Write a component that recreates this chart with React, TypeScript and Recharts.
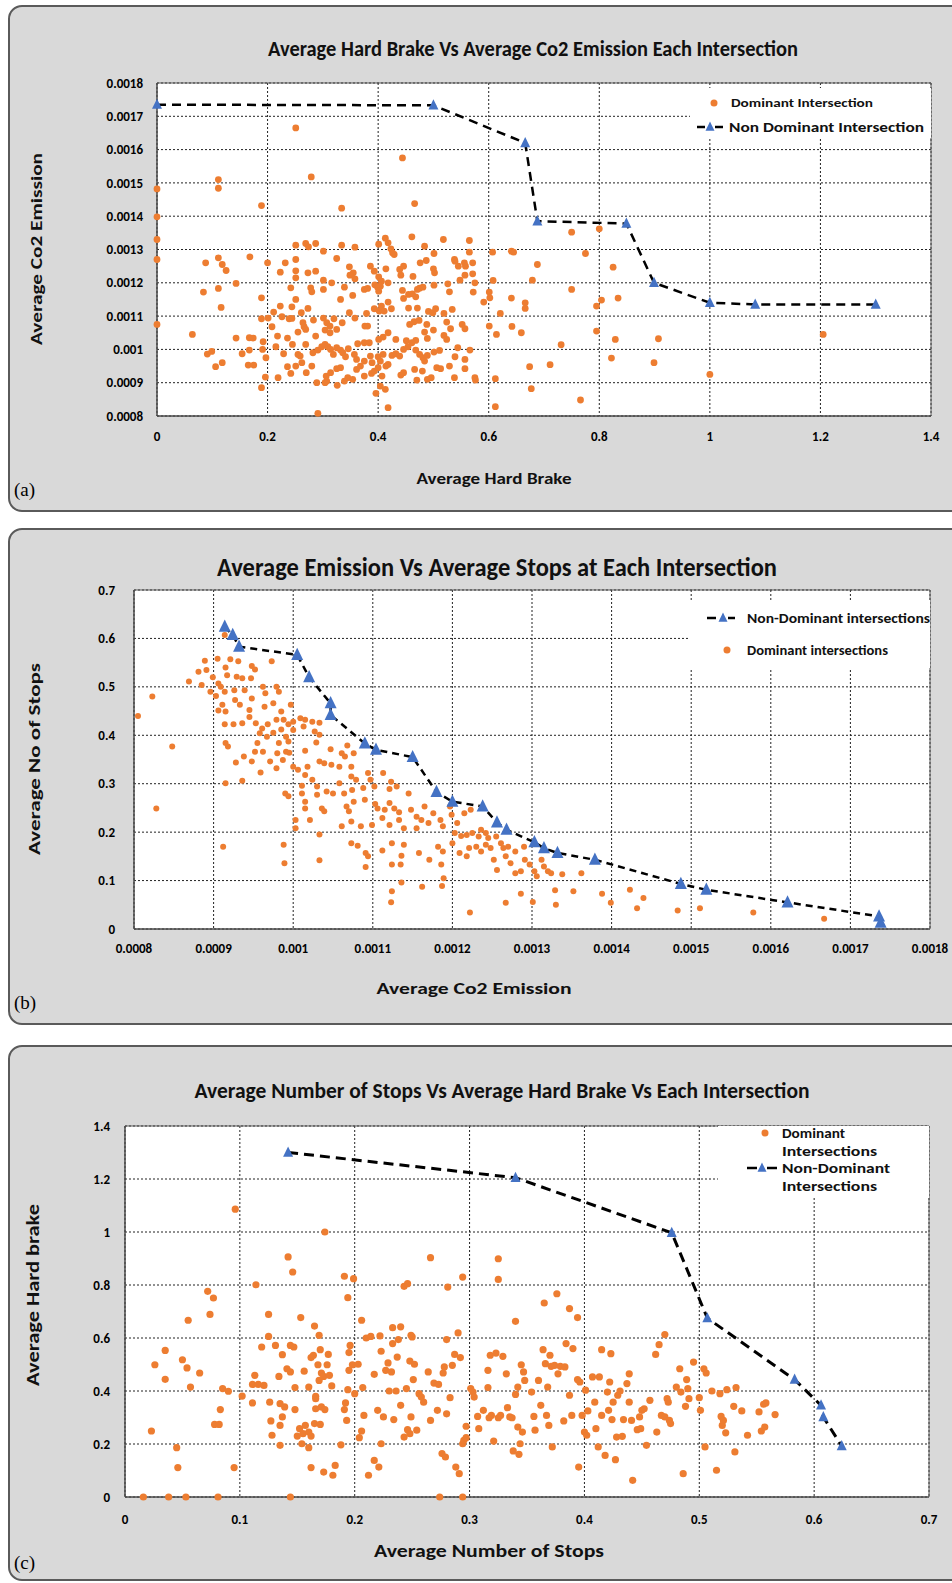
import React from 'react';
import { ScatterChart, Scatter, XAxis, YAxis, CartesianGrid, ReferenceArea, Legend } from 'recharts';

const ORANGE = '#ED7D31';
const BLUE = '#4472C4';
const FONT = "Carlito, 'Liberation Sans Narrow', 'DejaVu Sans Condensed', sans-serif";

// ---- panel (a): hard brake vs co2
const brakeTicks = [0, 0.2, 0.4, 0.6, 0.8, 1, 1.2, 1.4];
const co2TicksA = [0.0008, 0.0009, 0.001, 0.0011, 0.0012, 0.0013, 0.0014, 0.0015, 0.0016, 0.0017, 0.0018];
const frontierA: [number, number][] = [
  [0, 0.001735], [0.5, 0.001733], [0.666, 0.00162], [0.688, 0.001385], [0.849, 0.001378],
  [0.899, 0.0012], [1.0, 0.00114], [1.082, 0.001135], [1.3, 0.001135],
];
const dominantA: [number, number][] = [
  [0.251, 0.001665], [0.444, 0.001575], [0.111, 0.00151], [0.111, 0.001484], [0.279, 0.001518], [0, 0.001482],
  [0.189, 0.001432], [0.334, 0.001424], [0.466, 0.001438], [0, 0.001398], [0, 0.00133], [0, 0.00127], [0, 0.001075],
  [0.75, 0.001352], [0.8, 0.001362], [0.775, 0.001288], [0.688, 0.001255], [0.825, 0.001247], [0.679, 0.001208],
  [0.75, 0.00118], [0.834, 0.001154], [0.804, 0.001148], [0.795, 0.00113], [0.795, 0.001055], [0.829, 0.00103],
  [0.907, 0.001032], [0.731, 0.001014], [0.711, 0.000954], [0.674, 0.000948], [0.822, 0.000974], [0.899, 0.00096],
  [1.0, 0.000925], [0.677, 0.000882], [0.766, 0.000848], [0.612, 0.000828], [0.418, 0.000825], [0.291, 0.000808],
  [0.612, 0.000912], [0.189, 0.000885], [0.396, 0.000868], [1.205, 0.001045],
  [0.251, 0.001313], [0.269, 0.001318], [0.274, 0.001308], [0.287, 0.001318], [0.301, 0.001295], [0.334, 0.001313],
  [0.358, 0.001307], [0.401, 0.001316], [0.413, 0.001334], [0.418, 0.00132], [0.423, 0.001302], [0.426, 0.00129],
  [0.429, 0.001285], [0.461, 0.001338], [0.484, 0.00131], [0.518, 0.00133], [0.565, 0.001327], [0.565, 0.001292],
  [0.501, 0.001288], [0.538, 0.00127],
  [0.088, 0.00126], [0.111, 0.001275], [0.118, 0.001255], [0.125, 0.001237], [0.168, 0.001278], [0.2, 0.00126],
  [0.232, 0.00126], [0.251, 0.00127], [0.325, 0.001273], [0.348, 0.001248], [0.355, 0.00123], [0.386, 0.00125],
  [0.393, 0.001235], [0.414, 0.001242], [0.439, 0.00124], [0.446, 0.00125], [0.476, 0.00126], [0.487, 0.001267],
  [0.5, 0.001242], [0.502, 0.00123], [0.539, 0.001265], [0.545, 0.00125], [0.556, 0.00126], [0.558, 0.00125],
  [0.571, 0.00126], [0.607, 0.001292], [0.641, 0.001295], [0.645, 0.001292], [0.223, 0.001232], [0.251, 0.001236],
  [0.273, 0.00123], [0.287, 0.001235], [0.301, 0.001208], [0.316, 0.0012], [0.349, 0.001223], [0.358, 0.001212],
  [0.401, 0.001218], [0.406, 0.001205], [0.418, 0.0012], [0.441, 0.001223], [0.463, 0.001219], [0.526, 0.001197],
  [0.548, 0.001208], [0.557, 0.001223], [0.571, 0.001227], [0.575, 0.0012], [0.608, 0.001207],
  [0.084, 0.001172], [0.111, 0.001183], [0.143, 0.001198], [0.189, 0.001155], [0.242, 0.001185], [0.251, 0.001215],
  [0.278, 0.001185], [0.28, 0.001173], [0.301, 0.00118], [0.339, 0.001187], [0.332, 0.00115], [0.354, 0.001162],
  [0.375, 0.00118], [0.381, 0.001183], [0.394, 0.001194], [0.399, 0.001187], [0.404, 0.00119], [0.401, 0.001175],
  [0.444, 0.001177], [0.446, 0.001153], [0.455, 0.001165], [0.462, 0.001167], [0.468, 0.001158], [0.471, 0.00118],
  [0.475, 0.001184], [0.481, 0.001187], [0.501, 0.001193], [0.529, 0.001173], [0.572, 0.001172], [0.601, 0.001172],
  [0.602, 0.001155], [0.591, 0.001142], [0.641, 0.001154], [0.666, 0.00114], [0.666, 0.001123],
  [0.116, 0.001126], [0.211, 0.001112], [0.223, 0.00113], [0.244, 0.001128], [0.251, 0.00115], [0.261, 0.00111],
  [0.273, 0.001123], [0.226, 0.001098], [0.239, 0.001092], [0.244, 0.001093], [0.189, 0.001092], [0.201, 0.001094],
  [0.208, 0.001068], [0.264, 0.00108], [0.266, 0.001068], [0.283, 0.001088], [0.301, 0.001094], [0.307, 0.00108],
  [0.313, 0.00107], [0.32, 0.001092], [0.335, 0.00108], [0.348, 0.00111], [0.358, 0.001094], [0.379, 0.001108],
  [0.393, 0.001122], [0.402, 0.001115], [0.406, 0.00113], [0.411, 0.001115], [0.418, 0.001142], [0.424, 0.001122],
  [0.455, 0.001124], [0.471, 0.001124], [0.491, 0.001114], [0.499, 0.00111], [0.504, 0.001122], [0.519, 0.001108],
  [0.534, 0.00112], [0.621, 0.001108], [0.457, 0.001075], [0.465, 0.001083], [0.474, 0.001087], [0.488, 0.001075],
  [0.524, 0.001082], [0.552, 0.001075], [0.557, 0.001062], [0.601, 0.00107], [0.642, 0.001069], [0.659, 0.00105],
  [0.614, 0.001045],
  [0.064, 0.001045], [0.143, 0.001034], [0.167, 0.001035], [0.174, 0.001034], [0.192, 0.001023], [0.218, 0.00104],
  [0.236, 0.001034], [0.255, 0.001052], [0.269, 0.00106], [0.287, 0.00104], [0.304, 0.001058], [0.313, 0.00105],
  [0.325, 0.00106], [0.376, 0.00107], [0.381, 0.00107], [0.401, 0.00103], [0.409, 0.001037], [0.418, 0.00105],
  [0.432, 0.00103], [0.451, 0.001026], [0.468, 0.001027], [0.484, 0.001052], [0.489, 0.001033], [0.5, 0.001058],
  [0.519, 0.001042], [0.524, 0.00103], [0.531, 0.001062], [0.375, 0.00102], [0.384, 0.00102], [0.363, 0.001017],
  [0.091, 0.000986], [0.099, 0.000994], [0.154, 0.000987], [0.167, 0.000998], [0.191, 0.001], [0.197, 0.000975],
  [0.215, 0.001008], [0.229, 0.000987], [0.245, 0.001015], [0.255, 0.000985], [0.259, 0.00098], [0.269, 0.001015],
  [0.282, 0.00099], [0.291, 0.000998], [0.298, 0.001008], [0.304, 0.001015], [0.309, 0.001008], [0.314, 0.001],
  [0.319, 0.000985], [0.325, 0.001005], [0.332, 0.000998], [0.336, 0.00099], [0.341, 0.000978], [0.346, 0.001002],
  [0.357, 0.000985], [0.361, 0.00097], [0.375, 0.000965], [0.386, 0.00098], [0.389, 0.00096], [0.4, 0.000978],
  [0.404, 0.000965], [0.409, 0.000985], [0.425, 0.000982], [0.432, 0.000987], [0.439, 0.00098], [0.446, 0.001],
  [0.454, 0.001008], [0.461, 0.00102], [0.468, 0.000998], [0.475, 0.000985], [0.481, 0.000975], [0.484, 0.000965],
  [0.489, 0.000982], [0.501, 0.000992], [0.511, 0.000997], [0.539, 0.000978], [0.544, 0.001005], [0.557, 0.00097],
  [0.566, 0.000998],
  [0.106, 0.000948], [0.118, 0.00096], [0.165, 0.000953], [0.175, 0.000953], [0.196, 0.000917], [0.219, 0.000915],
  [0.236, 0.000948], [0.242, 0.000928], [0.251, 0.00095], [0.262, 0.00096], [0.27, 0.00093], [0.28, 0.00095],
  [0.289, 0.0009], [0.306, 0.00092], [0.307, 0.000905], [0.314, 0.00093], [0.325, 0.000942], [0.332, 0.000945],
  [0.345, 0.000915], [0.354, 0.00091], [0.361, 0.00094], [0.368, 0.00095], [0.375, 0.00092], [0.388, 0.000928],
  [0.393, 0.000935], [0.4, 0.000945], [0.407, 0.00092], [0.414, 0.00095], [0.418, 0.000955], [0.441, 0.000923],
  [0.446, 0.00093], [0.466, 0.00094], [0.47, 0.000908], [0.48, 0.000935], [0.489, 0.00091], [0.496, 0.000915],
  [0.506, 0.000945], [0.513, 0.000942], [0.529, 0.00095], [0.538, 0.000915], [0.557, 0.000942], [0.575, 0.000915],
  [0.576, 0.000908], [0.326, 0.000892], [0.339, 0.000905], [0.404, 0.00089], [0.413, 0.00088], [0.304, 0.0009],
];

// ---- panel (b): co2 vs stops
const co2TicksB = [0.0008, 0.0009, 0.001, 0.0011, 0.0012, 0.0013, 0.0014, 0.0015, 0.0016, 0.0017, 0.0018];
const stopTicksB = [0, 0.1, 0.2, 0.3, 0.4, 0.5, 0.6, 0.7];
const frontierB: [number, number][] = [
  [0.000914, 0.624], [0.000924, 0.607], [0.000932, 0.583], [0.001005, 0.566], [0.00102, 0.52], [0.001047, 0.466],
  [0.001047, 0.442], [0.00109, 0.383], [0.001104, 0.37], [0.00115, 0.355], [0.00118, 0.283], [0.0012, 0.263],
  [0.001238, 0.253], [0.001256, 0.22], [0.001268, 0.205], [0.001303, 0.179], [0.001315, 0.167], [0.001332, 0.157],
  [0.001379, 0.143], [0.001487, 0.093], [0.001519, 0.081], [0.001621, 0.055], [0.001736, 0.026], [0.001738, 0.013],
];
const dominantB: [number, number][] = [
  [0.000805, 0.44], [0.000823, 0.48], [0.000828, 0.249], [0.000848, 0.377],
  [0.000914, 0.607], [0.000889, 0.554], [0.000905, 0.558], [0.000915, 0.54], [0.000921, 0.557], [0.000931, 0.553],
  [0.000948, 0.543], [0.000973, 0.553], [0.000881, 0.531], [0.000891, 0.535], [0.000899, 0.52], [0.000869, 0.511],
  [0.000885, 0.504], [0.000917, 0.524], [0.000929, 0.521], [0.000936, 0.518], [0.000947, 0.518], [0.000952, 0.536],
  [0.000906, 0.507], [0.000909, 0.5], [0.000896, 0.49], [0.000903, 0.481], [0.000914, 0.49], [0.000926, 0.493],
  [0.000939, 0.493], [0.000948, 0.476], [0.000962, 0.5], [0.000965, 0.487], [0.000979, 0.5], [0.000982, 0.49],
  [0.000975, 0.466], [0.000985, 0.449], [0.000997, 0.463], [0.000911, 0.463], [0.000915, 0.449], [0.000906, 0.451],
  [0.000927, 0.473], [0.000933, 0.463], [0.000945, 0.452], [0.000945, 0.438], [0.000964, 0.459],
  [0.000914, 0.423], [0.000925, 0.423], [0.000936, 0.425], [0.000953, 0.425], [0.000961, 0.414], [0.000968, 0.423],
  [0.000979, 0.432], [0.000988, 0.432], [0.000994, 0.423], [0.001, 0.428], [0.001009, 0.435], [0.001015, 0.432],
  [0.001024, 0.428], [0.001033, 0.426], [0.000958, 0.404], [0.000967, 0.397], [0.000975, 0.405], [0.000985, 0.412],
  [0.000991, 0.397], [0.001, 0.411], [0.001013, 0.418], [0.001027, 0.408], [0.001033, 0.401],
  [0.000915, 0.384], [0.000918, 0.377], [0.000955, 0.384], [0.000982, 0.384], [0.000994, 0.387],
  [0.000952, 0.366], [0.000962, 0.366], [0.00098, 0.363], [0.000991, 0.366], [0.000995, 0.364], [0.001015, 0.368],
  [0.001029, 0.385], [0.001047, 0.371], [0.001061, 0.363], [0.001068, 0.379],
  [0.000928, 0.344], [0.000938, 0.356], [0.000959, 0.323], [0.000948, 0.346], [0.000971, 0.346], [0.000979, 0.332],
  [0.000987, 0.349], [0.001, 0.335], [0.001006, 0.329], [0.001015, 0.318], [0.001018, 0.335], [0.001033, 0.346],
  [0.001039, 0.342], [0.001048, 0.339], [0.001058, 0.335], [0.001065, 0.356], [0.001076, 0.363], [0.001073, 0.335],
  [0.000915, 0.301], [0.000936, 0.306], [0.00103, 0.294], [0.001024, 0.308], [0.001011, 0.296], [0.001058, 0.301],
  [0.001073, 0.315], [0.001079, 0.308], [0.001094, 0.322], [0.001097, 0.308], [0.001113, 0.322], [0.001123, 0.304],
  [0.00099, 0.28], [0.000994, 0.274], [0.001011, 0.28], [0.00103, 0.277], [0.001042, 0.284], [0.00105, 0.28],
  [0.001064, 0.28], [0.001074, 0.287], [0.001088, 0.291], [0.001102, 0.294], [0.001121, 0.289], [0.00113, 0.294],
  [0.001145, 0.28],
  [0.001015, 0.263], [0.001015, 0.249], [0.001036, 0.249], [0.001039, 0.243], [0.001067, 0.253], [0.00107, 0.243],
  [0.001076, 0.263], [0.00109, 0.267], [0.001103, 0.258], [0.001106, 0.249], [0.001115, 0.246], [0.001121, 0.26],
  [0.001127, 0.249], [0.001133, 0.241], [0.001148, 0.246], [0.001155, 0.232], [0.001161, 0.225], [0.001165, 0.253],
  [0.001176, 0.239], [0.001185, 0.225], [0.001197, 0.253], [0.001199, 0.236], [0.001206, 0.219], [0.001215, 0.239],
  [0.001223, 0.246],
  [0.001003, 0.225], [0.001003, 0.208], [0.001021, 0.225], [0.001061, 0.212], [0.001073, 0.222], [0.001085, 0.212],
  [0.001099, 0.215], [0.001112, 0.229], [0.001121, 0.215], [0.001133, 0.225], [0.001139, 0.208], [0.001155, 0.208],
  [0.00117, 0.219], [0.001188, 0.212], [0.001203, 0.198], [0.001211, 0.192], [0.001218, 0.194], [0.001225, 0.198],
  [0.001233, 0.191], [0.001236, 0.205], [0.001242, 0.198], [0.001245, 0.188], [0.001255, 0.191], [0.001261, 0.177],
  [0.001264, 0.167], [0.00127, 0.17], [0.001279, 0.16], [0.00129, 0.17], [0.001033, 0.195],
  [0.000912, 0.17], [0.000988, 0.174], [0.000989, 0.136], [0.001033, 0.142], [0.001073, 0.177], [0.001081, 0.172],
  [0.001091, 0.157], [0.001094, 0.15], [0.001091, 0.128], [0.001124, 0.177], [0.001112, 0.162], [0.001136, 0.151],
  [0.001135, 0.133], [0.001124, 0.133], [0.001139, 0.174], [0.001158, 0.157], [0.001171, 0.143], [0.001182, 0.17],
  [0.001188, 0.16], [0.001186, 0.133], [0.0012, 0.177], [0.001209, 0.157], [0.001218, 0.15], [0.001221, 0.167],
  [0.00123, 0.17], [0.001236, 0.16], [0.001242, 0.174], [0.001248, 0.167], [0.001252, 0.143], [0.001256, 0.122],
  [0.001267, 0.15], [0.001273, 0.136], [0.001279, 0.115], [0.001286, 0.119], [0.001291, 0.143], [0.001297, 0.133],
  [0.001303, 0.119], [0.001306, 0.109], [0.001312, 0.143], [0.001315, 0.129], [0.00132, 0.119], [0.001324, 0.115],
  [0.001338, 0.113], [0.001362, 0.115],
  [0.001189, 0.105], [0.001162, 0.087], [0.001136, 0.096], [0.001124, 0.078], [0.001123, 0.055], [0.001187, 0.089],
  [0.001222, 0.034], [0.001267, 0.054], [0.001286, 0.073], [0.001301, 0.056], [0.001329, 0.08], [0.00133, 0.05],
  [0.001352, 0.078], [0.001388, 0.073], [0.001399, 0.054], [0.001423, 0.081], [0.001432, 0.043], [0.00144, 0.064],
  [0.001483, 0.038], [0.001511, 0.043], [0.001578, 0.034], [0.001667, 0.021],
];

// ---- panel (c): stops vs hard brake
const stopTicksC = [0, 0.1, 0.2, 0.3, 0.4, 0.5, 0.6, 0.7];
const brakeTicksC = [0, 0.2, 0.4, 0.6, 0.8, 1, 1.2, 1.4];
const frontierC: [number, number][] = [
  [0.142, 1.3], [0.34, 1.205], [0.476, 0.997], [0.507, 0.675], [0.583, 0.443], [0.606, 0.346], [0.608, 0.302], [0.624, 0.192],
];
const dominantC: [number, number][] = [
  [0.096, 1.086], [0.174, 1.0], [0.142, 0.906], [0.146, 0.849], [0.266, 0.903], [0.325, 0.899], [0.325, 0.821],
  [0.191, 0.833], [0.199, 0.824], [0.114, 0.801], [0.243, 0.795], [0.246, 0.805], [0.281, 0.792], [0.294, 0.83],
  [0.072, 0.776], [0.077, 0.751], [0.074, 0.689], [0.055, 0.667], [0.194, 0.752], [0.125, 0.689], [0.153, 0.677],
  [0.165, 0.645], [0.169, 0.61], [0.206, 0.667], [0.233, 0.639], [0.24, 0.642], [0.249, 0.61], [0.29, 0.619],
  [0.28, 0.594], [0.34, 0.663], [0.365, 0.732], [0.376, 0.767], [0.387, 0.711], [0.394, 0.677], [0.47, 0.613],
  [0.465, 0.575], [0.462, 0.538], [0.035, 0.553], [0.026, 0.499], [0.035, 0.444], [0.05, 0.518], [0.054, 0.487],
  [0.065, 0.468], [0.057, 0.415], [0.085, 0.409], [0.09, 0.399], [0.083, 0.33], [0.078, 0.274], [0.082, 0.274],
  [0.023, 0.249], [0.045, 0.186], [0.046, 0.111], [0.095, 0.111], [0.016, 0], [0.038, 0], [0.053, 0], [0.081, 0],
  [0.144, 0], [0.274, 0], [0.294, 0],
  [0.102, 0.381], [0.111, 0.355], [0.113, 0.459], [0.111, 0.425], [0.116, 0.425], [0.121, 0.421], [0.119, 0.566],
  [0.125, 0.606], [0.131, 0.572], [0.134, 0.455], [0.137, 0.537], [0.141, 0.484], [0.144, 0.472], [0.144, 0.572],
  [0.147, 0.566], [0.148, 0.413], [0.156, 0.475], [0.16, 0.415], [0.162, 0.526], [0.164, 0.535], [0.166, 0.38],
  [0.168, 0.499], [0.169, 0.44], [0.17, 0.556], [0.171, 0.468], [0.173, 0.455], [0.176, 0.499], [0.177, 0.538],
  [0.178, 0.459], [0.18, 0.419], [0.126, 0.358], [0.135, 0.352], [0.139, 0.34], [0.137, 0.302], [0.135, 0.27],
  [0.127, 0.287], [0.128, 0.233], [0.135, 0.195], [0.148, 0.33], [0.152, 0.258], [0.15, 0.23], [0.154, 0.201],
  [0.155, 0.239], [0.157, 0.27], [0.16, 0.245], [0.162, 0.23], [0.165, 0.277], [0.16, 0.186], [0.162, 0.111],
  [0.166, 0.371], [0.166, 0.333], [0.17, 0.274], [0.171, 0.34], [0.173, 0.094], [0.174, 0.33], [0.181, 0.082],
  [0.183, 0.119], [0.188, 0.197], [0.191, 0.33], [0.192, 0.355], [0.193, 0.289], [0.194, 0.405], [0.195, 0.478],
  [0.195, 0.545], [0.196, 0.572], [0.198, 0.499], [0.2, 0.39], [0.203, 0.501], [0.204, 0.224], [0.207, 0.413],
  [0.208, 0.308], [0.206, 0.249], [0.21, 0.6], [0.214, 0.606], [0.212, 0.082], [0.217, 0.463], [0.217, 0.138],
  [0.22, 0.327], [0.221, 0.113], [0.222, 0.608], [0.223, 0.55], [0.223, 0.201], [0.225, 0.302], [0.227, 0.478],
  [0.229, 0.506], [0.23, 0.4], [0.232, 0.472], [0.233, 0.579], [0.234, 0.292], [0.236, 0.4], [0.237, 0.528],
  [0.238, 0.594], [0.24, 0.346], [0.243, 0.226], [0.245, 0.409], [0.246, 0.254], [0.248, 0.513], [0.248, 0.239],
  [0.249, 0.302], [0.25, 0.604], [0.251, 0.443], [0.252, 0.501], [0.254, 0.252], [0.256, 0.39], [0.258, 0.377],
  [0.26, 0.358], [0.264, 0.472], [0.266, 0.289], [0.269, 0.43], [0.272, 0.327], [0.273, 0.425], [0.276, 0.164],
  [0.277, 0.468], [0.278, 0.491], [0.279, 0.151], [0.28, 0.314], [0.283, 0.375], [0.285, 0.497], [0.287, 0.538],
  [0.288, 0.113], [0.291, 0.088], [0.292, 0.526], [0.294, 0.201], [0.295, 0.214], [0.297, 0.267], [0.297, 0.224],
  [0.301, 0.409], [0.303, 0.396], [0.304, 0.377], [0.307, 0.304], [0.308, 0.258], [0.312, 0.327], [0.318, 0.535],
  [0.316, 0.413], [0.317, 0.299], [0.316, 0.478], [0.319, 0.308], [0.321, 0.211], [0.323, 0.543], [0.325, 0.299],
  [0.327, 0.308], [0.329, 0.531], [0.332, 0.465], [0.333, 0.337], [0.335, 0.302], [0.337, 0.299], [0.338, 0.174],
  [0.34, 0.387], [0.342, 0.415], [0.342, 0.264], [0.343, 0.161], [0.344, 0.201], [0.345, 0.499], [0.346, 0.245],
  [0.347, 0.472], [0.348, 0.44], [0.354, 0.396], [0.356, 0.304], [0.357, 0.252], [0.36, 0.44], [0.362, 0.346],
  [0.364, 0.556], [0.366, 0.503], [0.367, 0.308], [0.368, 0.415], [0.369, 0.27], [0.37, 0.535], [0.371, 0.493],
  [0.372, 0.189], [0.374, 0.497], [0.377, 0.465], [0.379, 0.493], [0.383, 0.491], [0.382, 0.287], [0.384, 0.579],
  [0.387, 0.384], [0.389, 0.308], [0.39, 0.56], [0.394, 0.443], [0.395, 0.113], [0.396, 0.434], [0.398, 0.308],
  [0.4, 0.245], [0.401, 0.403], [0.402, 0.233], [0.403, 0.325], [0.407, 0.453], [0.409, 0.358], [0.41, 0.258],
  [0.412, 0.189], [0.413, 0.453], [0.415, 0.556], [0.415, 0.308], [0.418, 0.157], [0.42, 0.396], [0.421, 0.327],
  [0.422, 0.434], [0.423, 0.541], [0.424, 0.292], [0.425, 0.358], [0.427, 0.141], [0.428, 0.226], [0.429, 0.384],
  [0.431, 0.4], [0.433, 0.229], [0.434, 0.292], [0.437, 0.428], [0.439, 0.465], [0.439, 0.358], [0.441, 0.289],
  [0.442, 0.063], [0.446, 0.254], [0.448, 0.302], [0.449, 0.258], [0.45, 0.327], [0.452, 0.333], [0.454, 0.195],
  [0.457, 0.365], [0.463, 0.245], [0.467, 0.308], [0.47, 0.302], [0.472, 0.371], [0.474, 0.289], [0.475, 0.277],
  [0.473, 0.358], [0.48, 0.415], [0.483, 0.484], [0.484, 0.396], [0.486, 0.088], [0.488, 0.342], [0.489, 0.443],
  [0.49, 0.409], [0.491, 0.371], [0.495, 0.509], [0.5, 0.375], [0.501, 0.327], [0.504, 0.484], [0.506, 0.468],
  [0.505, 0.189], [0.511, 0.4], [0.515, 0.101], [0.518, 0.39], [0.519, 0.304], [0.52, 0.27], [0.521, 0.289],
  [0.523, 0.242], [0.524, 0.405], [0.53, 0.342], [0.532, 0.413], [0.531, 0.17], [0.537, 0.325], [0.542, 0.233],
  [0.552, 0.321], [0.554, 0.249], [0.556, 0.35], [0.557, 0.264], [0.558, 0.355], [0.566, 0.311],
];

const pts = (arr: [number, number][]) => arr.map(([x, y]) => ({ x, y }));

const dotShape = (r: number) => (p: any) => <circle cx={p.cx} cy={p.cy} r={r} fill={ORANGE} />;
const triShape = (s: number) => (p: any) => {
  const { cx, cy } = p;
  return (
    <polygon
      points={`${cx},${cy - s * 0.6} ${cx - s / 2},${cy + s * 0.42} ${cx + s / 2},${cy + s * 0.42}`}
      fill={BLUE}
    />
  );
};

const tickStyle = { fill: '#000', fontSize: 13, fontWeight: 'bold' as const, fontFamily: FONT };
const lblStyle = { fontFamily: FONT, fontWeight: 'bold' as const, fill: '#111' };

const Tri = ({ x, y, s }: { x: number; y: number; s: number }) => (
  <polygon points={`${x},${y - s * 0.6} ${x - s / 2},${y + s * 0.42} ${x + s / 2},${y + s * 0.42}`} fill={BLUE} />
);

const LegendA = () => (
  <svg width={241} height={50}>
    <circle cx={24} cy={15} r={3.5} fill={ORANGE} />
    <text x={41} y={19} fontSize={12} textLength={142} lengthAdjust="spacingAndGlyphs" {...lblStyle}>Dominant Intersection</text>
    <line x1={7} x2={15} y1={39} y2={39} stroke="#000" strokeWidth={2.5} />
    <line x1={25} x2={33} y1={39} y2={39} stroke="#000" strokeWidth={2.5} />
    <Tri x={20} y={39} s={9} />
    <text x={39} y={44} fontSize={14} textLength={195} lengthAdjust="spacingAndGlyphs" {...lblStyle}>Non Dominant Intersection</text>
  </svg>
);

const LegendB = () => (
  <svg width={240} height={68}>
    <line x1={17} x2={26} y1={18} y2={18} stroke="#000" strokeWidth={2.5} />
    <line x1={38} x2={45} y1={18} y2={18} stroke="#000" strokeWidth={2.5} />
    <Tri x={33} y={18} s={9} />
    <text x={57} y={23} fontSize={14} textLength={183} lengthAdjust="spacingAndGlyphs" {...lblStyle}>Non-Dominant intersections</text>
    <circle cx={37} cy={50} r={3.5} fill={ORANGE} />
    <text x={57} y={55} fontSize={14} textLength={141} lengthAdjust="spacingAndGlyphs" {...lblStyle}>Dominant intersections</text>
  </svg>
);

const LegendC = () => (
  <svg width={211} height={72}>
    <circle cx={47} cy={7} r={3.5} fill={ORANGE} />
    <text x={64} y={12} fontSize={13} textLength={63} lengthAdjust="spacingAndGlyphs" {...lblStyle}>Dominant</text>
    <text x={64} y={30} fontSize={13} textLength={95} lengthAdjust="spacingAndGlyphs" {...lblStyle}>Intersections</text>
    <line x1={29} x2={39} y1={42} y2={42} stroke="#000" strokeWidth={2.5} />
    <line x1={49} x2={59} y1={42} y2={42} stroke="#000" strokeWidth={2.5} />
    <Tri x={44} y={42} s={9} />
    <text x={64} y={47} fontSize={13} textLength={108} lengthAdjust="spacingAndGlyphs" {...lblStyle}>Non-Dominant</text>
    <text x={64} y={65} fontSize={13} textLength={95} lengthAdjust="spacingAndGlyphs" {...lblStyle}>Intersections</text>
  </svg>
);

const panelBox = (top: number, height: number): React.CSSProperties => ({
  position: 'absolute',
  left: 8,
  top,
  width: 1000,
  height,
  boxSizing: 'border-box',
  background: '#d9d9d9',
  border: '2px solid #5a5a5a',
  borderRadius: 14,
});

export default function App() {
  return (
    <div style={{ position: 'absolute', left: 0, top: 0, width: 952, height: 1583, overflow: 'hidden', background: '#fff' }}>
      <div style={panelBox(5, 507)} />
      <div style={panelBox(528, 497)} />
      <div style={panelBox(1045, 536)} />

      {/* (a) */}
      <div style={{ position: 'absolute', left: 0, top: 0 }}>
        <ScatterChart width={952} height={520} margin={{ top: 83, right: 21, bottom: 74, left: 97 }}>
          <CartesianGrid stroke="#222" strokeDasharray="2 2" fill="#fff" fillOpacity={1} />
          <XAxis type="number" dataKey="x" domain={[0, 1.4]} ticks={brakeTicks} interval={0} height={30}
            tickSize={0} tickMargin={16} axisLine={{ stroke: '#404040' }} tick={tickStyle} />
          <YAxis type="number" dataKey="y" domain={[0.0008, 0.0018]} ticks={co2TicksA} interval={0} width={60}
            tickSize={0} tickMargin={14} axisLine={{ stroke: '#404040' }} tick={tickStyle} />
          <ReferenceArea x1={0} x2={1.4} y1={0.0008} y2={0.0018} fill="none" stroke="#595959" strokeWidth={1} ifOverflow="visible" />
          <Scatter data={pts(dominantA)} shape={dotShape(3.4)} isAnimationActive={false} />
          <Scatter data={pts(frontierA)} shape={triShape(10)} isAnimationActive={false}
            line={{ stroke: '#000', strokeWidth: 2.5, strokeDasharray: '9 6' }} lineType="joint" />
          <Legend layout="vertical" align="center" verticalAlign="middle"
            wrapperStyle={{ left: 690, top: 88, width: 241, height: 50, background: '#fff' }}
            content={() => <LegendA />} />
        </ScatterChart>
      </div>

      {/* (b) */}
      <div style={{ position: 'absolute', left: 0, top: 520 }}>
        <ScatterChart width={952} height={510} margin={{ top: 70, right: 22, bottom: 71, left: 74 }}>
          <CartesianGrid stroke="#222" strokeDasharray="2 2" fill="#fff" fillOpacity={1} />
          <XAxis type="number" dataKey="x" domain={[0.0008, 0.0018]} ticks={co2TicksB} interval={0} height={30}
            tickSize={0} tickMargin={15} axisLine={{ stroke: '#404040' }} tick={tickStyle} />
          <YAxis type="number" dataKey="y" domain={[0, 0.7]} ticks={stopTicksB} interval={0} width={60}
            tickSize={0} tickMargin={19} axisLine={{ stroke: '#404040' }} tick={tickStyle} />
          <ReferenceArea x1={0.0008} x2={0.0018} y1={0} y2={0.7} fill="none" stroke="#595959" strokeWidth={1} ifOverflow="visible" />
          <Scatter data={pts(dominantB)} shape={dotShape(3)} isAnimationActive={false} />
          <Scatter data={pts(frontierB)} shape={triShape(12)} isAnimationActive={false}
            line={{ stroke: '#000', strokeWidth: 2.5, strokeDasharray: '7 5' }} lineType="joint" />
          <Legend layout="vertical" align="center" verticalAlign="middle"
            wrapperStyle={{ left: 690, top: 80, width: 240, height: 68, background: '#fff' }}
            content={() => <LegendB />} />
        </ScatterChart>
      </div>

      {/* (c) */}
      <div style={{ position: 'absolute', left: 0, top: 1040 }}>
        <ScatterChart width={952} height={540} margin={{ top: 86, right: 23, bottom: 53, left: 65 }}>
          <CartesianGrid stroke="#222" strokeDasharray="2 2" fill="#fff" fillOpacity={1} />
          <XAxis type="number" dataKey="x" domain={[0, 0.7]} ticks={stopTicksC} interval={0} height={30}
            tickSize={0} tickMargin={18} axisLine={{ stroke: '#404040' }} tick={tickStyle} />
          <YAxis type="number" dataKey="y" domain={[0, 1.4]} ticks={brakeTicksC} interval={0} width={60}
            tickSize={0} tickMargin={15} axisLine={{ stroke: '#404040' }} tick={tickStyle} />
          <ReferenceArea x1={0} x2={0.7} y1={0} y2={1.4} fill="none" stroke="#595959" strokeWidth={1} ifOverflow="visible" />
          <Scatter data={pts(dominantC)} shape={dotShape(3.6)} isAnimationActive={false} />
          <Scatter data={pts(frontierC)} shape={triShape(10)} isAnimationActive={false}
            line={{ stroke: '#000', strokeWidth: 3, strokeDasharray: '10 6' }} lineType="joint" />
          <Legend layout="vertical" align="center" verticalAlign="middle"
            wrapperStyle={{ left: 718, top: 86, width: 211, height: 72, background: '#fff' }}
            content={() => <LegendC />} />
        </ScatterChart>
      </div>

      {/* titles and axis titles */}
      <svg width={952} height={1583} style={{ position: 'absolute', left: 0, top: 0, pointerEvents: 'none' }}>
        <g {...lblStyle}>
          <text x={533} y={56} fontSize={22} fontWeight={600} textAnchor="middle" textLength={530} lengthAdjust="spacingAndGlyphs">
            Average Hard Brake Vs Average Co2 Emission  Each Intersection
          </text>
          <text x={494} y={484} fontSize={16} textAnchor="middle" textLength={155} lengthAdjust="spacingAndGlyphs">Average Hard  Brake</text>
          <text x={36} y={249} fontSize={16} textAnchor="middle" dominantBaseline="central" transform="rotate(-90 36 249)"
            textLength={192} lengthAdjust="spacingAndGlyphs">Average Co2 Emission</text>

          <text x={497} y={576} fontSize={26} textAnchor="middle" textLength={560} lengthAdjust="spacingAndGlyphs">
            Average Emission Vs Average Stops at Each Intersection
          </text>
          <text x={474} y={994} fontSize={16} textAnchor="middle" textLength={195} lengthAdjust="spacingAndGlyphs">Average Co2 Emission</text>
          <text x={34} y={759} fontSize={16} textAnchor="middle" dominantBaseline="central" transform="rotate(-90 34 759)"
            textLength={192} lengthAdjust="spacingAndGlyphs">Average No of Stops</text>

          <text x={502} y={1098} fontSize={23} fontWeight={600} textAnchor="middle" textLength={615} lengthAdjust="spacingAndGlyphs">
            Average Number of Stops Vs Average Hard Brake Vs Each Intersection
          </text>
          <text x={489} y={1557} fontSize={17} textAnchor="middle" textLength={230} lengthAdjust="spacingAndGlyphs">Average Number of Stops</text>
          <text x={33} y={1295} fontSize={17} textAnchor="middle" dominantBaseline="central" transform="rotate(-90 33 1295)"
            textLength={182} lengthAdjust="spacingAndGlyphs">Average Hard brake</text>
        </g>
        <g fontFamily="'Liberation Serif', 'DejaVu Serif', serif" fontSize={19} fill="#000">
          <text x={14} y={496}>(a)</text>
          <text x={14} y={1009}>(b)</text>
          <text x={14} y={1569}>(c)</text>
        </g>
      </svg>
    </div>
  );
}
